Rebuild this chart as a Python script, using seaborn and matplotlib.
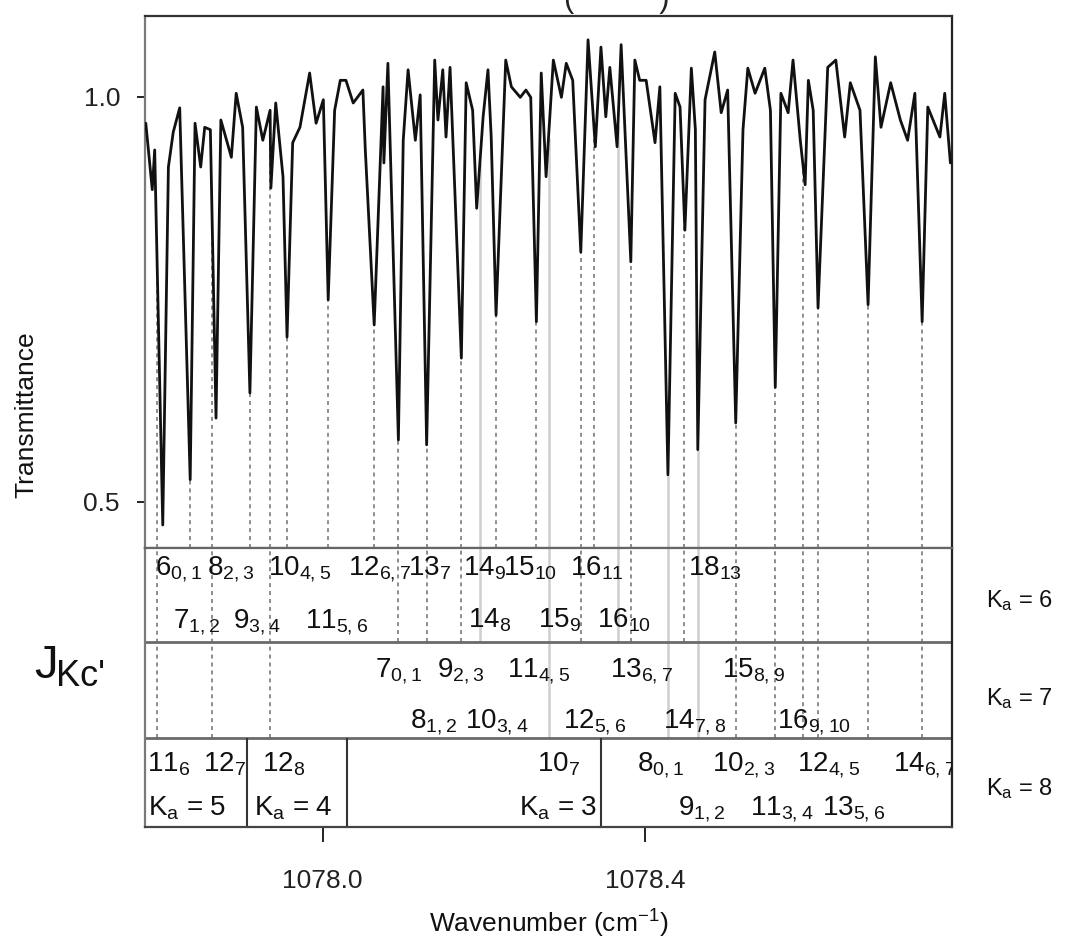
import matplotlib
matplotlib.use("Agg")
import matplotlib.pyplot as plt
import numpy as np
import pandas as pd
import seaborn as sns

# ---------------- data ----------------
wavenumber = [1077.781, 1077.789, 1077.792, 1077.802, 1077.809, 1077.815, 1077.823, 1077.836,
              1077.842, 1077.849, 1077.854, 1077.861, 1077.868, 1077.874, 1077.887, 1077.893,
              1077.901, 1077.910, 1077.918, 1077.926, 1077.935, 1077.936, 1077.942, 1077.951,
              1077.956, 1077.963, 1077.972, 1077.984, 1077.992, 1078.001, 1078.007, 1078.015,
              1078.022, 1078.029, 1078.038, 1078.050, 1078.053, 1078.064, 1078.075, 1078.076,
              1078.081, 1078.094, 1078.100, 1078.106, 1078.115, 1078.121, 1078.129, 1078.139,
              1078.143, 1078.149, 1078.153, 1078.158, 1078.172, 1078.178, 1078.186, 1078.191,
              1078.199, 1078.205, 1078.209, 1078.215, 1078.227, 1078.234, 1078.245, 1078.252,
              1078.258, 1078.265, 1078.271, 1078.277, 1078.286, 1078.296, 1078.302, 1078.310,
              1078.320, 1078.329, 1078.338, 1078.345, 1078.351, 1078.356, 1078.365, 1078.370,
              1078.382, 1078.387, 1078.393, 1078.401, 1078.412, 1078.418, 1078.428, 1078.437,
              1078.443, 1078.449, 1078.457, 1078.462, 1078.465, 1078.474, 1078.486, 1078.494,
              1078.502, 1078.512, 1078.521, 1078.527, 1078.536, 1078.548, 1078.555, 1078.561,
              1078.568, 1078.577, 1078.583, 1078.592, 1078.598, 1078.602, 1078.608, 1078.614,
              1078.626, 1078.636, 1078.647, 1078.654, 1078.666, 1078.676, 1078.685, 1078.692,
              1078.704, 1078.716, 1078.725, 1078.734, 1078.743, 1078.750, 1078.765, 1078.771,
              1078.778]
transmittance = [0.967, 0.885, 0.934, 0.471, 0.913, 0.956, 0.986, 0.527,
                 0.967, 0.913, 0.962, 0.959, 0.603, 0.971, 0.925, 1.004,
                 0.962, 0.634, 0.987, 0.946, 0.983, 0.887, 0.992, 0.901,
                 0.703, 0.943, 0.962, 1.029, 0.967, 0.996, 0.749, 0.983,
                 1.020, 1.020, 0.992, 1.008, 0.934, 0.718, 1.012, 0.918,
                 1.041, 0.576, 0.946, 1.033, 0.946, 1.002, 0.570, 1.045,
                 0.971, 1.033, 0.950, 1.036, 0.677, 1.017, 0.983, 0.862,
                 0.975, 1.033, 0.950, 0.730, 1.045, 1.012, 0.999, 1.008,
                 0.999, 0.722, 1.029, 0.901, 1.045, 0.999, 1.041, 1.020,
                 0.808, 1.070, 0.938, 1.061, 0.975, 1.036, 0.938, 1.064,
                 0.796, 1.045, 1.020, 1.020, 0.943, 1.012, 0.533, 1.004,
                 0.987, 0.835, 1.035, 0.959, 0.564, 0.996, 1.055, 0.980,
                 1.008, 0.597, 0.959, 1.035, 1.004, 1.035, 0.983, 0.641,
                 1.004, 0.980, 1.045, 0.946, 0.891, 1.020, 0.983, 0.739,
                 1.036, 1.045, 0.950, 1.017, 0.983, 0.743, 1.049, 0.962,
                 1.017, 0.971, 0.946, 1.004, 0.722, 0.987, 0.950, 1.004,
                 0.918]

# assignment guide lines: position and how far down they reach
guide_wn = [1077.795, 1077.836, 1077.863, 1077.910, 1077.935, 1077.956, 1078.007, 1078.064,
            1078.094, 1078.129, 1078.172, 1078.195, 1078.215, 1078.265, 1078.280, 1078.320,
            1078.336, 1078.366, 1078.382, 1078.428, 1078.448, 1078.465, 1078.512, 1078.561,
            1078.595, 1078.614, 1078.676, 1078.743]
guide_reach = ["Ka7", "spec", "Ka7", "spec", "Ka7", "spec", "spec", "spec",
               "Ka6", "Ka6", "Ka6", "Ka6", "spec", "spec", "Ka7", "Ka6",
               "spec", "Ka6", "Ka6", "Ka7", "Ka6", "Ka7", "Ka7", "Ka7",
               "Ka7", "Ka7", "Ka7", "Ka7"]
guide_light = [False, False, False, False, False, False, False, False,
               False, False, False, True, False, False, True, False,
               False, True, False, True, False, True, False, False,
               False, False, False, False]

# labels in the assignment bands: (J, Kc subscript, left wavenumber)
ka6_row1 = [("6", "0,1", 1077.792), ("8", "2,3", 1077.857), ("10", "4,5", 1077.932),
            ("12", "6,7", 1078.032), ("13", "7", 1078.106), ("14", "9", 1078.174),
            ("15", "10", 1078.224), ("16", "11", 1078.307), ("18", "13", 1078.453)]
ka6_row2 = [("7", "1,2", 1077.815), ("9", "3,4", 1077.889), ("11", "5,6", 1077.978),
            ("14", "8", 1078.180), ("15", "9", 1078.267), ("16", "10", 1078.340)]
ka7_row1 = [("7", "0,1", 1078.065), ("9", "2,3", 1078.142), ("11", "4,5", 1078.229),
            ("13", "6,7", 1078.356), ("15", "8,9", 1078.495)]
ka7_row2 = [("8", "1,2", 1078.108), ("10", "3,4", 1078.177), ("12", "5,6", 1078.298),
            ("14", "7,8", 1078.422), ("16", "9,10", 1078.563)]
low_row1 = [("11", "6", 1077.782), ("12", "7", 1077.852), ("12", "8", 1077.925),
            ("10", "7", 1078.266), ("8", "0,1", 1078.390), ("10", "2,3", 1078.483),
            ("12", "4,5", 1078.588), ("14", "6,7", 1078.707)]
low_row2 = [("9", "1,2", 1078.440), ("11", "3,4", 1078.530), ("13", "5,6", 1078.619)]
ka_box_labels = [("5", 1077.784, "left"), ("4", 1077.915, "left"), ("3", 1078.340, "right")]
box_dividers = [1077.906, 1078.030, 1078.345]
right_ka = ["6", "7", "8"]

x_ticks = [1078.0, 1078.4]
x_ticklabels = ["1078.0", "1078.4"]
y_ticks = [0.5, 1.0]
y_ticklabels = ["0.5", "1.0"]

# ---------------- style ----------------
sns.set_theme(style="white")
plt.rcParams["font.family"] = ["Liberation Sans", "DejaVu Sans"]
plt.rcParams["mathtext.default"] = "regular"
plt.rcParams["axes.linewidth"] = 1.6

W, H = 1083, 951
fig = plt.figure(figsize=(W / 100, H / 100), dpi=100)
L, Rr = 145 / W, 952 / W
ax = fig.add_axes([L, 1 - 548 / H, Rr - L, (548 - 16) / H])
axb = fig.add_axes([L, 1 - 827 / H, Rr - L, (827 - 548) / H], sharex=ax)

xmin, xmax = 1077.78, 1078.78
ylo, yhi = 0.4426, 1.0994
band_top, ka6_bottom, ka7_bottom = 279, 185, 89

df = pd.DataFrame({"wn": wavenumber, "T": transmittance})

# guide lines (behind the trace)
gw = np.array(guide_wn)
gstart = np.interp(gw, df["wn"], df["T"])
for w, s, reach, light in zip(gw, gstart, guide_reach, guide_light):
    col = "#cfcfcf" if light else "#858585"
    ls = "-" if light else (0, (2.2, 2.2))
    lw = 1.8 if light else 1.3
    ax.vlines(w, ylo, s, colors=col, linestyles=ls, linewidth=lw, zorder=1)
    if reach != "spec":
        end = ka6_bottom if reach == "Ka6" else ka7_bottom
        axb.vlines(w, end, band_top, colors=col, linestyles=ls, linewidth=lw, zorder=1)

sns.lineplot(data=df, x="wn", y="T", ax=ax, color="#111111", linewidth=2.0,
             sort=False, estimator=None, zorder=3)

ax.set_xlim(xmin, xmax)
ax.set_ylim(ylo, yhi)
ax.set_yticks(y_ticks)
ax.set_yticklabels(y_ticklabels)
ax.tick_params(axis="y", direction="out", length=6, width=1.4, pad=12, labelsize=19,
               left=True, colors="#222222")
ax.tick_params(axis="x", bottom=False, labelbottom=False)
ax.set_xlabel("")
ax.set_ylabel("Transmittance", fontsize=19, color="#111111")
ax.yaxis.set_label_coords(-0.1326, 0.25)
for side, c in [("left", "#7a7a7a"), ("top", "#333333"), ("right", "#222222"), ("bottom", "#666666")]:
    ax.spines[side].set_color(c)

# label bands
axb.set_ylim(0, band_top)
axb.set_yticks([])
axb.axhline(ka6_bottom, color="#6a6a6a", linewidth=2.0)
axb.axhline(ka7_bottom, color="#6a6a6a", linewidth=2.0)
axb.vlines(box_dividers, 0, ka7_bottom, colors="#333333", linewidth=1.5)
for side, c in [("left", "#7a7a7a"), ("top", "#666666"), ("right", "#222222"), ("bottom", "#444444")]:
    axb.spines[side].set_color(c)

axb.set_xticks(x_ticks)
axb.set_xticklabels(x_ticklabels)
axb.tick_params(axis="x", direction="out", length=11, width=1.4, pad=19, labelsize=19,
                bottom=True, colors="#222222")
axb.set_xlabel("Wavenumber (cm$^{-1}$)", fontsize=19, color="#111111")
axb.xaxis.set_label_coords(0.5, -0.29)

fs = 20
def put(row, ybase):
    for main, sub, x in row:
        axb.text(x, ybase, main + "$_{" + sub + "}$", fontsize=fs, ha="left",
                 va="baseline", color="#111111", clip_on=True)

put(ka6_row1, 252)
put(ka6_row2, 199)
put(ka7_row1, 150)
put(ka7_row2, 99)
put(low_row1, 56)
put(low_row2, 12)
for k, x, ha in ka_box_labels:
    axb.text(x, 12, "K$_a$ = " + k, fontsize=fs, ha=ha, va="baseline", color="#111111")

# right-hand Ka labels
for k, yb in zip(right_ka, [607, 705, 795]):
    fig.text(986 / W, 1 - yb / H, "K$_a$ = " + k, fontsize=17, ha="left",
             va="baseline", color="#111111")

# J_Kc' label
fig.text(34 / W, 1 - 678 / H, "J", fontsize=34, ha="left", va="baseline", color="#111111")
fig.text(56 / W, 1 - 686 / H, "Kc'", fontsize=26, ha="left", va="baseline", color="#111111")

# clipped title at top
fig.text(617 / W, 1 - 14 / H, "(          )", fontsize=22, ha="center", va="bottom",
         color="#222222")

fig.savefig("out.png", dpi=100)
